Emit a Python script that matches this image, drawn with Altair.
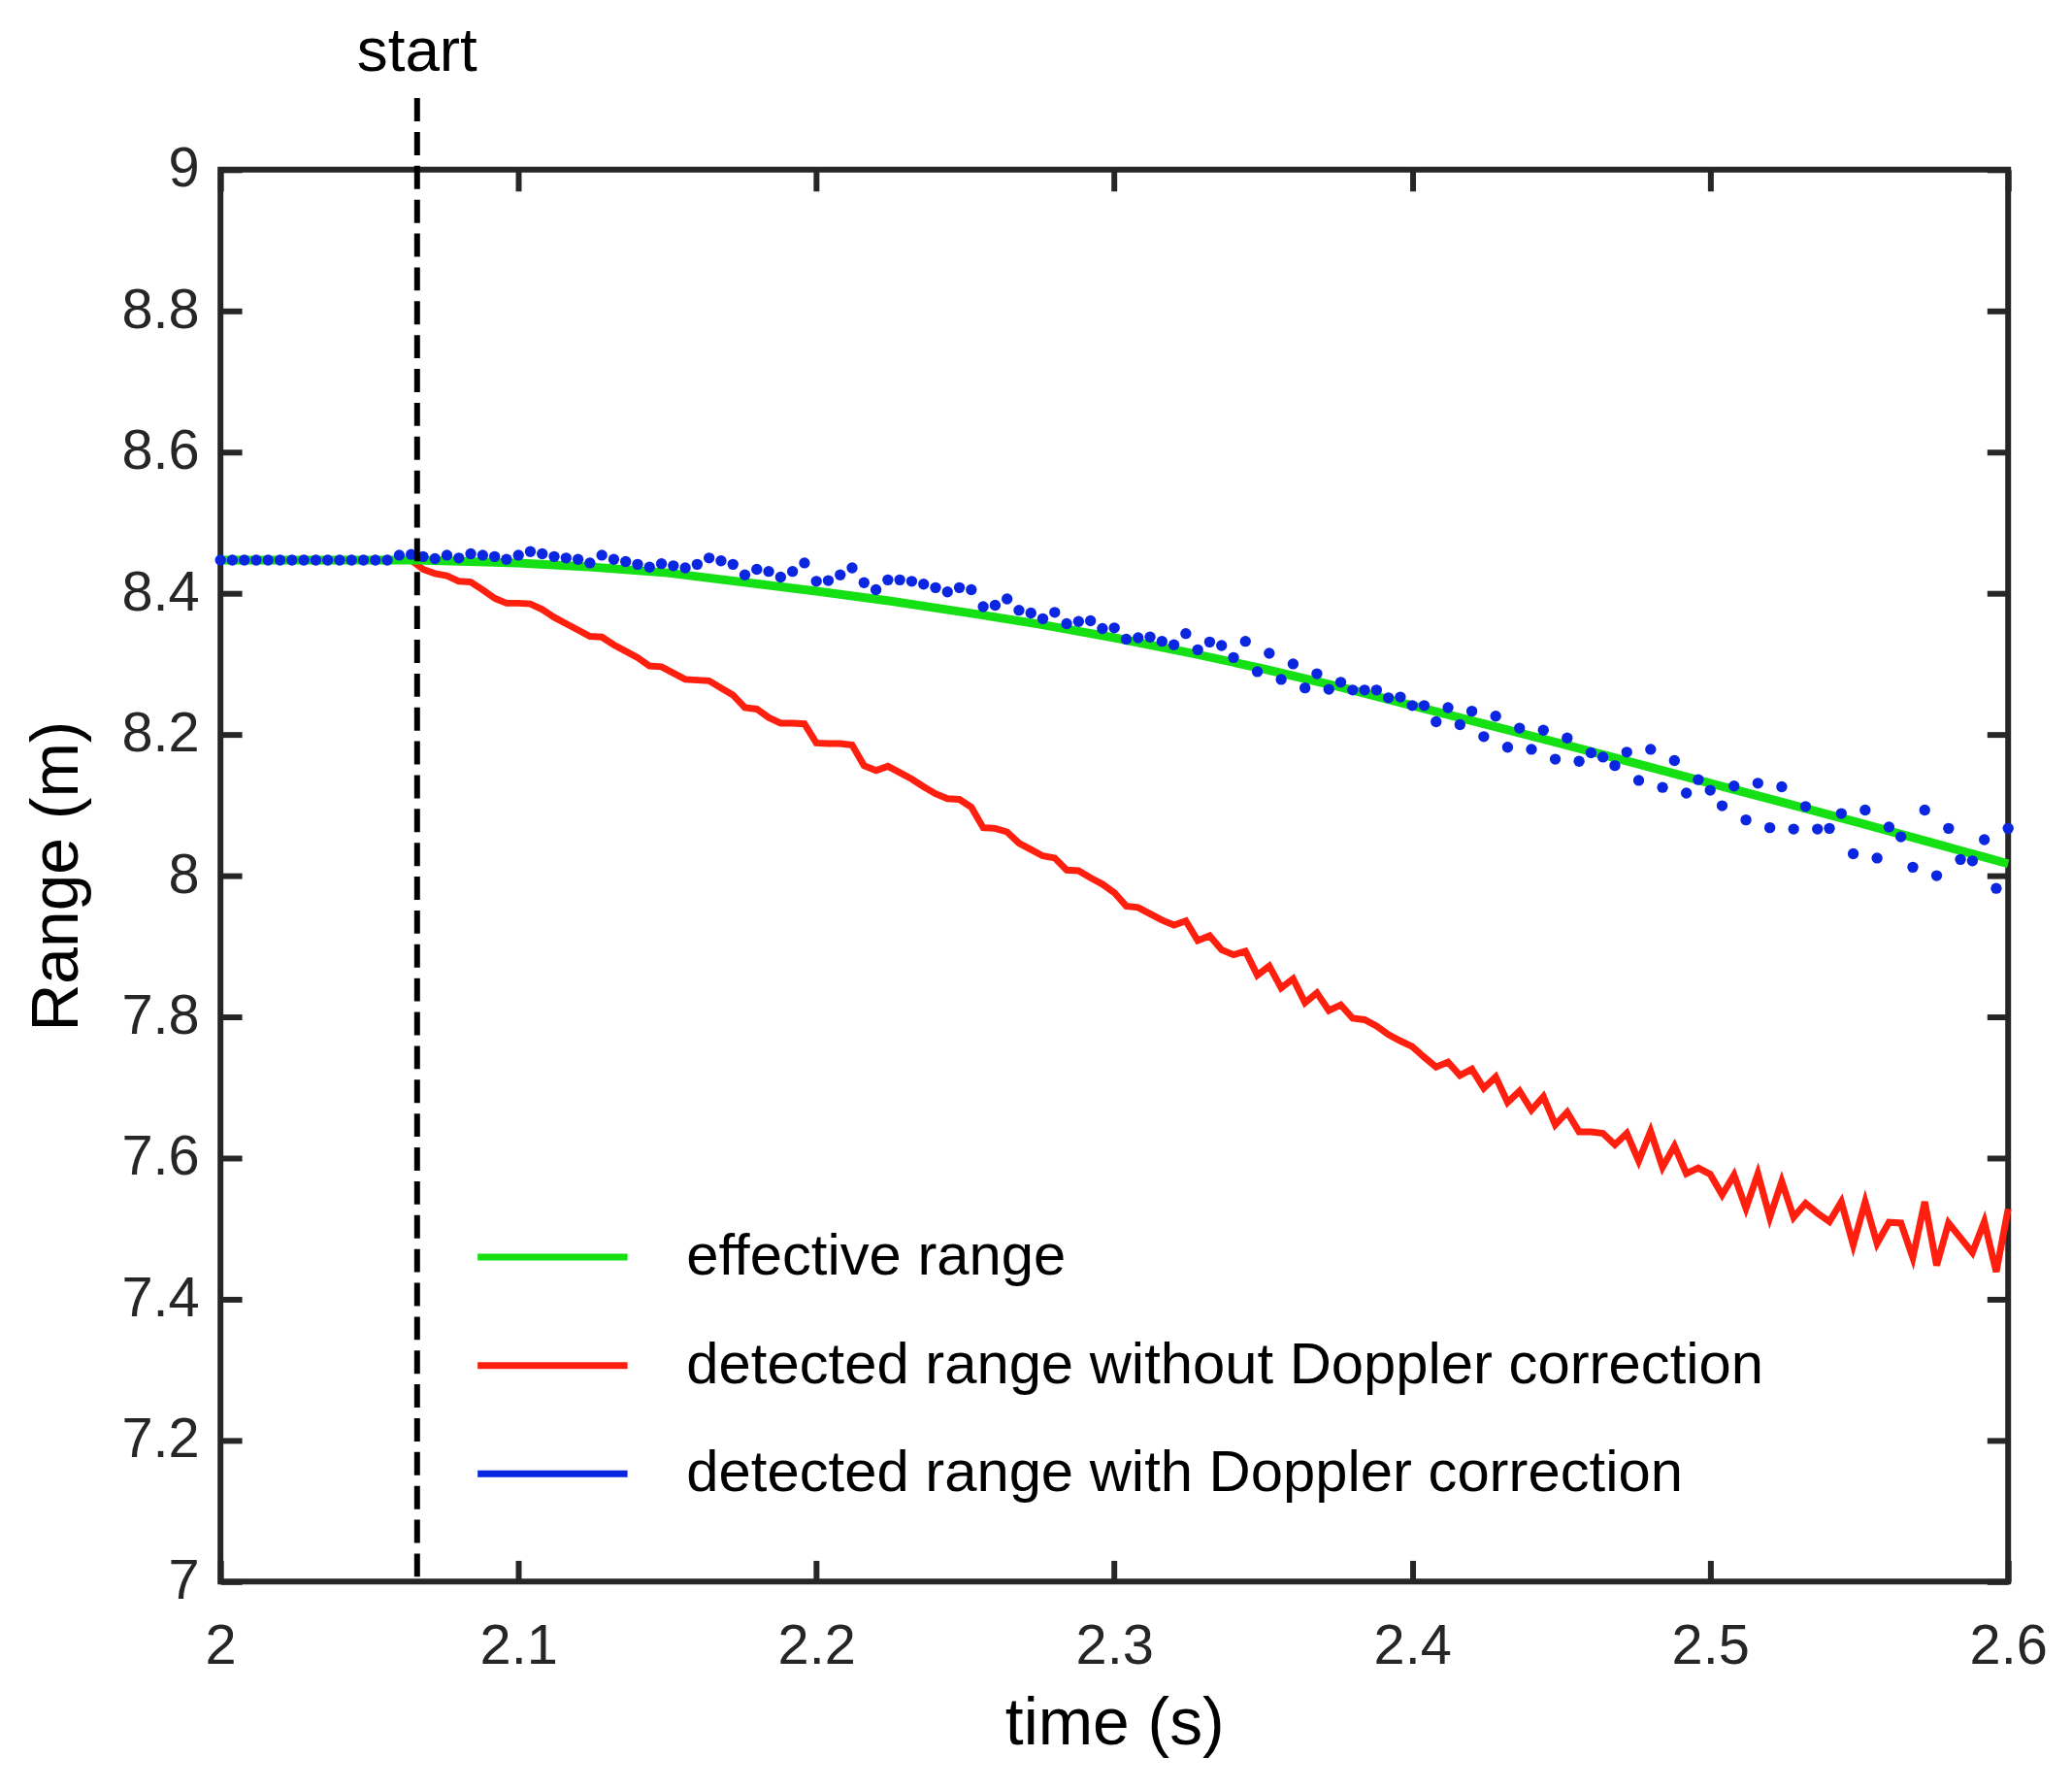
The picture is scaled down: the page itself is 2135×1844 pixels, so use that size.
import altair as alt
import pandas as pd

# ---------------- data ----------------
SERIES = [
    "effective range",
    "detected range without Doppler correction",
    "detected range with Doppler correction",
]
COLORS = ["#14e014", "#ff1f0f", "#0a26e0"]

X_TICKS = [2.0, 2.1, 2.2, 2.3, 2.4, 2.5, 2.6]
Y_TICKS = [7.0, 7.2, 7.4, 7.6, 7.8, 8.0, 8.2, 8.4, 8.6, 8.8, 9.0]

START_TIME = [2.066]
START_LABEL = ["start"]

# sampling grid of the detected ranges (s)
T_FIRST = 2.0
T_STEP = 0.004
N_SAMPLES = 151

# effective range (smooth curve)
green_t = [2.0, 2.066, 2.1, 2.125, 2.15, 2.175, 2.2, 2.225, 2.25, 2.275, 2.3,
           2.325, 2.35, 2.375, 2.4, 2.425, 2.45, 2.475, 2.5, 2.525, 2.55,
           2.575, 2.6]
green_r = [8.447, 8.447, 8.443, 8.437, 8.429, 8.416, 8.403, 8.389, 8.373,
           8.356, 8.337, 8.316, 8.293, 8.268, 8.241, 8.214, 8.187, 8.159,
           8.131, 8.103, 8.075, 8.046, 8.017]

# detected range without Doppler correction
red_r = [8.447] * 17 + [
    8.434, 8.428, 8.425, 8.417, 8.416, 8.405, 8.393, 8.386, 8.386, 8.385,
    8.377, 8.366, 8.357, 8.348, 8.339, 8.338, 8.327, 8.318, 8.309, 8.297,
    8.296, 8.287, 8.278, 8.277, 8.276, 8.266, 8.256, 8.238, 8.236, 8.224,
    8.216, 8.216, 8.215, 8.188, 8.187, 8.187, 8.185, 8.156, 8.149, 8.155,
    8.146, 8.137, 8.126, 8.116, 8.109, 8.108, 8.097, 8.068, 8.067, 8.062,
    8.046, 8.037, 8.028, 8.025, 8.008, 8.007, 7.997, 7.988, 7.976, 7.957,
    7.955, 7.946, 7.937, 7.930, 7.936, 7.908, 7.915, 7.895, 7.888, 7.893,
    7.859, 7.872, 7.841, 7.854, 7.820, 7.834, 7.809, 7.817, 7.798, 7.796,
    7.787, 7.775, 7.766, 7.758, 7.743, 7.729, 7.736, 7.717, 7.726, 7.699,
    7.715, 7.679, 7.695, 7.668, 7.687, 7.647, 7.665, 7.637, 7.637, 7.635,
    7.619, 7.635, 7.596, 7.638, 7.587, 7.617, 7.578, 7.586, 7.577, 7.548,
    7.576, 7.529, 7.578, 7.516, 7.567, 7.516, 7.536, 7.522, 7.510, 7.538,
    7.477, 7.538, 7.479, 7.509, 7.508, 7.459, 7.538, 7.448, 7.508, 7.487,
    7.466, 7.510, 7.439, 7.528,
]

# detected range with Doppler correction (dots)
blue_r = [8.447] * 15 + [
    8.454, 8.455, 8.452, 8.449, 8.454, 8.450, 8.456, 8.454, 8.452, 8.448,
    8.454, 8.459, 8.456, 8.452, 8.450, 8.448, 8.443, 8.454, 8.448, 8.445,
    8.441, 8.437, 8.442, 8.439, 8.436, 8.441, 8.450, 8.446, 8.441, 8.426,
    8.434, 8.431, 8.423, 8.431, 8.443, 8.417, 8.418, 8.426, 8.436, 8.415,
    8.405, 8.419, 8.419, 8.417, 8.413, 8.408, 8.402, 8.408, 8.405, 8.381,
    8.383, 8.392, 8.376, 8.372, 8.364, 8.373, 8.357, 8.360, 8.361, 8.350,
    8.351, 8.335, 8.337, 8.338, 8.332, 8.327, 8.343, 8.320, 8.331, 8.326,
    8.309, 8.332, 8.289, 8.315, 8.278, 8.300, 8.266, 8.286, 8.264, 8.274,
    8.263, 8.263, 8.263, 8.252, 8.253, 8.241, 8.241, 8.218, 8.238, 8.214,
    8.233, 8.197, 8.226, 8.182, 8.209, 8.179, 8.206, 8.165, 8.195, 8.162,
    8.174, 8.168, 8.156, 8.175, 8.135, 8.179, 8.125, 8.163, 8.117, 8.136,
    8.121, 8.099, 8.127, 8.079, 8.131, 8.068, 8.126, 8.066, 8.098, 8.066,
    8.067, 8.088, 8.031, 8.093, 8.025, 8.069, 8.055, 8.012, 8.093, 8.000,
    8.067, 8.023, 8.021, 8.051, 7.982, 8.067,
]

assert len(red_r) == N_SAMPLES and len(blue_r) == N_SAMPLES
sample_t = [round(T_FIRST + T_STEP * i, 3) for i in range(N_SAMPLES)]

green_df = pd.DataFrame({"t": green_t, "r": green_r, "series": SERIES[0]})
red_df = pd.DataFrame({"t": sample_t, "r": red_r, "series": SERIES[1]})
blue_df = pd.DataFrame({"t": sample_t, "r": blue_r, "series": SERIES[2]})
start_df = pd.DataFrame({"t": START_TIME, "label": START_LABEL})

# ---------------- styling ----------------
W, H = 1849, 1460
FONT = "Liberation Sans"
AX = "#262626"

xs = alt.Scale(domain=[2.0, 2.6], nice=False, zero=False)
ys = alt.Scale(domain=[7.0, 9.0], nice=False, zero=False)
cs = alt.Scale(domain=SERIES, range=COLORS)


def tick_axis(orient, offset, values):
    return alt.Axis(orient=orient, offset=offset, values=values, labels=False,
                    domain=False, grid=False, ticks=True, tickSize=22,
                    tickWidth=6, tickColor=AX, title=None)


x_label_axis = alt.Axis(orient="bottom", values=X_TICKS, format="~g",
                        ticks=False, domain=False, grid=False,
                        labelFontSize=58, labelFont=FONT, labelColor=AX,
                        labelPadding=38, labelFlush=False, labelOverlap=False,
                        title="time (s)", titleFontSize=68, titleFont=FONT,
                        titleFontWeight="normal", titleColor="black",
                        titlePadding=18)
y_label_axis = alt.Axis(orient="left", values=Y_TICKS, format="~g",
                        ticks=False, domain=False, grid=False,
                        labelFontSize=58, labelFont=FONT, labelColor=AX,
                        labelPadding=22, labelFlush=False, labelOverlap=False,
                        title="Range (m)", titleFontSize=68, titleFont=FONT,
                        titleFontWeight="normal", titleColor="black",
                        titlePadding=32)

legend = alt.Legend(title=None, orient="none", legendX=309, legendY=1090,
                    padding=0, symbolType="M-2.5,0H2.5", symbolSize=3844,
                    symbolStrokeWidth=7, labelFontSize=60, labelFont=FONT,
                    labelColor="black", labelOffset=104, rowPadding=47,
                    labelLimit=2000)

color_enc = alt.Color("series:N", scale=cs, legend=legend)

red = alt.Chart(red_df).mark_line(strokeWidth=7).encode(
    x=alt.X("t:Q", scale=xs, axis=x_label_axis),
    y=alt.Y("r:Q", scale=ys, axis=y_label_axis),
    color=color_enc,
)

green = alt.Chart(green_df).mark_line(strokeWidth=9).encode(
    x=alt.X("t:Q", scale=xs, axis=tick_axis("top", -H, X_TICKS)),
    y=alt.Y("r:Q", scale=ys, axis=tick_axis("right", -W, Y_TICKS)),
    color=color_enc,
)

blue = alt.Chart(blue_df).mark_circle(size=130, opacity=1).encode(
    x=alt.X("t:Q", scale=xs, axis=tick_axis("bottom", -H, X_TICKS)),
    y=alt.Y("r:Q", scale=ys, axis=tick_axis("left", -W, Y_TICKS)),
    color=color_enc,
)

start_rule = alt.Chart(start_df).mark_rule(
    color="black", strokeWidth=6, strokeDash=[24, 11]
).encode(
    x=alt.X("t:Q", scale=xs, axis=None),
    y=alt.value(-74),
    y2=alt.value(H),
)

start_text = alt.Chart(start_df).mark_text(
    fontSize=64, font=FONT, baseline="alphabetic", align="center",
    color="black"
).encode(
    x=alt.X("t:Q", scale=xs, axis=None),
    y=alt.value(-102),
    text="label:N",
)

chart = (
    alt.layer(red, green, blue, start_rule, start_text)
    .resolve_axis(x="independent", y="independent")
    .properties(
        width=W,
        height=H,
        autosize=alt.AutoSizeParams(type="none"),
        padding={"left": 220, "top": 164, "right": 58, "bottom": 212},
        background="white",
    )
    .configure(font=FONT)
    .configure_view(stroke=AX, strokeWidth=6)
)

chart.save("out.html", embed_options={"renderer": "svg", "actions": False})
